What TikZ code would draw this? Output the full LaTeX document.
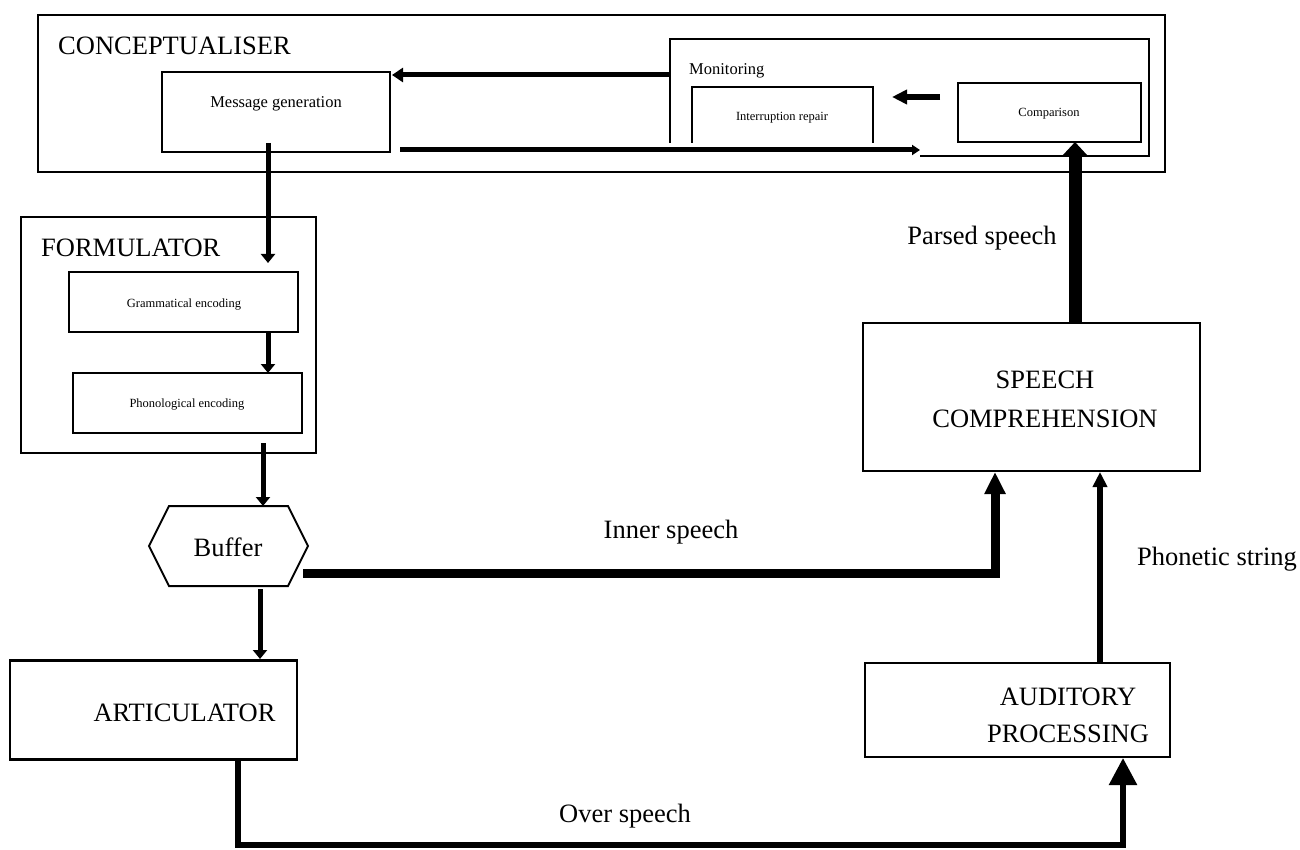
\documentclass[tikz,border=0pt]{standalone}
\usepackage{fontspec}
\setmainfont{Liberation Serif}
\usetikzlibrary{arrows.meta}
\begin{document}
\begin{tikzpicture}[x=1pt,y=-1pt,
  box/.style={draw,line width=2.5pt,rectangle,inner sep=0pt},
  openbox/.style={draw,line width=2.5pt},
  big/.style={font=\fontsize{26.5}{30}\selectfont,inner sep=0pt},
  med/.style={font=\fontsize{16.5}{20}\selectfont,inner sep=0pt},
  small/.style={font=\fontsize{12.5}{15}\selectfont,inner sep=0pt},
  conn/.style={line width=5pt},
  tipS/.style={-{Triangle[length=9pt,width=14pt]}},
]
\useasboundingbox (0,0) rectangle (1300,850);

% ---------- boxes ----------
\node[box,minimum width=1127pt,minimum height=157pt] (concept) at (601.5,93.5) {};
\node[box,minimum width=228pt,minimum height=80pt] (msg) at (276,112) {};
\node[box,minimum width=183pt,minimum height=59pt] (comp) at (1049.5,112.5) {};
\node[box,minimum width=295pt,minimum height=236pt] (form) at (168.5,335) {};
\node[box,minimum width=229pt,minimum height=60pt] (gram) at (183.5,302) {};
\node[box,minimum width=229pt,minimum height=60pt] (phon) at (187.5,403) {};
\node[box,minimum width=287pt,minimum height=99pt] (artic) at (153.5,710) {};
\node[box,minimum width=305pt,minimum height=94pt] (aud) at (1017.5,710) {};
\node[box,minimum width=337pt,minimum height=148pt] (speech) at (1031.5,397) {};

% Monitoring box (open at lower left)
\coordinate (monA) at (920,156);
\coordinate (monB) at (670,143);
\draw[openbox] (monA) -- (1149,156) -- (1149,39) -- (670,39) -- (monB);
% Interruption repair box (open at bottom)
\draw[openbox] (692,143) -- (692,87) -- (873,87) -- (873,143);
% Buffer hexagon
\draw[openbox,line width=2pt] (149,546) -- (169,506) -- (288,506) -- (308,546) -- (288,586) -- (169,586) -- cycle;

% ---------- texts ----------
\node[big,anchor=base west] (tConcept) at (58,55) {CONCEPTUALISER};
\node[med,anchor=base west] (tMon) at (689,75) {Monitoring};
\node[med,anchor=base] (tMsg) at (276,108) {Message generation};
\node[small,anchor=base] (tInt) at (782,121) {Interruption repair};
\node[small,anchor=base] (tComp) at (1049,117) {Comparison};
\node[big,anchor=base west] (tForm) at (41,256) {FORMULATOR};
\node[small,anchor=base] (tGram) at (184,307) {Grammatical encoding};
\node[small,anchor=base] (tPhon) at (187,407) {Phonological encoding};
\node[big,anchor=base] (buf) at (228,556) {Buffer};
\node[big,anchor=base] (tArtic) at (184.5,721) {ARTICULATOR};
\node[big,anchor=base] (tSp1) at (1045,388) {SPEECH};
\node[big,anchor=base] (tSp2) at (1045,427) {COMPREHENSION};
\node[big,anchor=base] (tAud1) at (1068,705) {AUDITORY};
\node[big,anchor=base] (tAud2) at (1068,742) {PROCESSING};
\node[big,anchor=base] (tInner) at (671,538) {Inner speech};
\node[big,anchor=base] (tParsed) at (982,245) {Parsed speech};
\node[big,anchor=base] (tPhonetic) at (1217,565) {Phonetic string};
\node[big,anchor=base] (tOver) at (625,822) {Over speech};

% ---------- connector end points ----------
\coordinate (monOut) at (669,75);
\coordinate (msgIn) at (392,75);
\coordinate (msgOut) at (400,150);
\coordinate (monIn) at (920,150);
\coordinate (compOut) at (940,97);
\coordinate (intIn) at (892,97);
\coordinate (msgDown) at (268,143);
\coordinate (gramIn) at (268,263);
\coordinate (gramOut) at (268,333);
\coordinate (phonIn) at (268,373);
\coordinate (formOut) at (263,443);
\coordinate (bufIn) at (263,506);
\coordinate (bufOut) at (260,589);
\coordinate (articIn) at (260,659);
\coordinate (bufRight) at (303,573);
\coordinate (innerIn) at (995,472);
\coordinate (audOut) at (1100,663);
\coordinate (phonetIn) at (1100,472);
\coordinate (speechOut) at (1075,323);
\coordinate (compIn) at (1075,142);
\coordinate (articOut) at (238,760);
\coordinate (audIn) at (1123,758);

% ---------- connectors ----------
\draw[conn,-{Triangle[length=11pt,width=14pt]}] (monOut) -- (msgIn);
\draw[conn,-{Triangle[length=8pt,width=10pt]}] (msgOut) -- (monIn);
\draw[conn,line width=6pt,-{Triangle[length=15pt,width=14pt]}] (compOut) -- (intIn);
\draw[conn,tipS] (msgDown) -- (gramIn);
\draw[conn,tipS] (gramOut) -- (phonIn);
\draw[conn,tipS] (formOut) -- (bufIn);
\draw[conn,tipS] (bufOut) -- (articIn);
\draw[conn,line width=9pt,-{Triangle[length=22pt,width=20pt]}] (bufRight) -| (innerIn);
\draw[conn,line width=6pt,-{Triangle[length=15pt,width=14pt]}] (audOut) -- (phonetIn);
\draw[conn,line width=13pt,-{Triangle[length=14pt,width=25pt]}] (speechOut) -- (compIn);
\draw[conn,line width=5.5pt,-{Triangle[length=27pt,width=27pt]}] (articOut) -- (238,845) -- (1123,845) -- (audIn);
\end{tikzpicture}
\end{document}
